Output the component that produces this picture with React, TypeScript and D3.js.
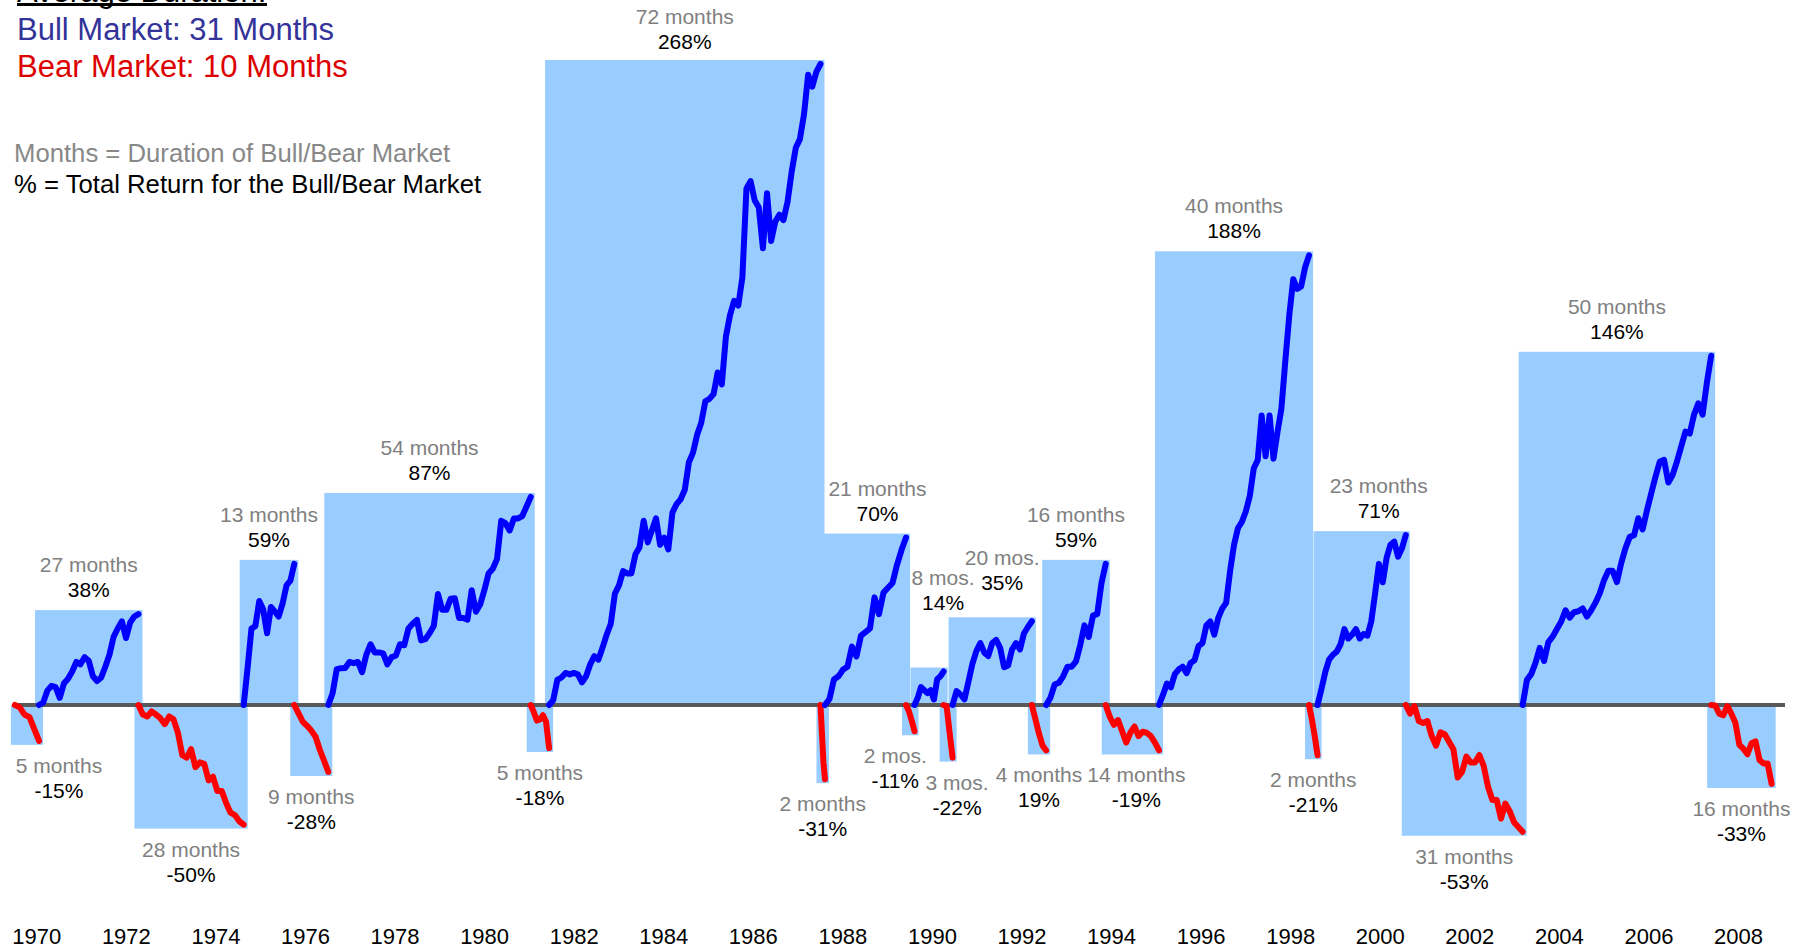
import React, { useEffect, useRef } from "react";
import * as d3 from "d3";

// market boundaries (decimal years), each market runs from breaks[i] to breaks[i + 1]
const breaks = [
  1969.51, 1970.05, 1972.27, 1974.62, 1975.75, 1976.51, 1981.03, 1981.44,
  1987.5, 1987.6, 1989.41, 1989.6, 1990.25, 1990.45, 1992.22, 1992.54,
  1993.87, 1995.06, 1998.41, 1998.6, 2000.57, 2003.18, 2007.39, 2008.74,
];

// total return of each market (%)
const totals = [
  -15, 38, -50, 59, -28, 87, -18, 268, -31, 70, -11, 14, -22, 35, -19, 59,
  -19, 188, -21, 71, -53, 146, -33,
];

const durationText = [
  "5 months", "27 months", "28 months", "13 months", "9 months", "54 months",
  "5 months", "72 months", "2 months", "21 months", "2 mos.", "8 mos.",
  "3 mos.", "20 mos.", "4 months", "16 months", "14 months", "40 months",
  "2 months", "23 months", "31 months", "50 months", "16 months",
];

const returnText = [
  "-15%", "38%", "-50%", "59%", "-28%", "87%", "-18%", "268%", "-31%", "70%",
  "-11%", "14%", "-22%", "35%", "19%", "59%", "-19%", "188%", "-21%", "71%",
  "-53%", "146%", "-33%",
];

// cumulative return path inside each market (%), evenly spaced in time
const paths = [
  [0, -1, -4, -5, -10, -15],
  [0, 1, 6, 8, 7.5, 3, 9, 11, 14, 18, 17, 20, 18.5, 12, 10, 11.5, 16, 21, 28.5, 32, 35, 28, 34.5, 37, 38],
  [0, -4, -4.8, -2.7, -4, -5.5, -8, -4.8, -6, -11.6, -21, -22, -18.5, -26, -24, -24.6, -31.5, -30, -36, -36, -41, -45, -46, -48.6, -50],
  [0, 15.5, 32, 33, 43.5, 40, 30, 41, 39, 37, 42.5, 50, 52, 59],
  [0, -3.5, -7, -8.7, -10.7, -13.3, -18.7, -23.3, -28],
  [0, 4.8, 15, 15.4, 15.5, 18, 17.5, 18, 13.7, 21, 25.4, 22, 22, 21.6, 17, 20, 20.6, 25.4, 25, 32, 34, 35.6, 27, 27.5, 30, 33, 46.4, 39.8, 39.8, 44.4, 44.6, 36.4, 36.4, 35.7, 48, 39, 42, 48, 55, 57, 61, 77, 76, 73, 78, 78, 79, 83, 87],
  [0, -3, -6.5, -6, -4.3, -7, -18],
  [0, 2, 10.5, 11.5, 13.4, 12.8, 13.4, 12.8, 9.5, 12, 17, 20.4, 19, 24, 29.4, 34, 46.6, 50, 56, 55, 55, 63, 66, 77, 68, 73, 78, 67, 70, 65, 80.5, 84, 86, 90, 101.5, 105.5, 113, 118, 127, 128, 130, 139, 134, 154, 163, 169, 167, 178.7, 216, 219, 211, 208, 191, 214, 194, 202, 205, 202.7, 210.5, 223, 233, 236.6, 247, 263.5, 258.5, 264.7, 268],
  [0, -12, -24, -31],
  [0, 2.5, 10.7, 12, 14.8, 16, 24.4, 20.3, 29, 30.5, 32, 45, 38, 47, 49, 51, 58.6, 64.8, 70],
  [0, -2.5, -6.5, -11],
  [0, 3, 7.5, 6.2, 5, 6.2, 2.3, 10.8, 12, 14],
  [0, -0.5, -11.5, -22],
  [0, 5.8, 4.4, 2.4, 9.8, 17.2, 22.5, 25.9, 21.9, 20.5, 25.9, 27.2, 23.9, 15.8, 16.5, 23.2, 25.9, 23.2, 29.9, 32.6, 35],
  [0, -6, -12, -17, -19],
  [0, 3, 8.6, 9.3, 12, 16, 16, 18.2, 25, 33.3, 28.5, 37.4, 38, 51, 59],
  [0, -5, -8.3, -6.3, -11, -15.7, -11.6, -9, -13, -11.2, -11.6, -13, -15.7, -19],
  [0, 4.2, 9, 7.4, 12.9, 14.9, 16, 13.3, 17.6, 18.7, 24.6, 25.9, 33.3, 34.9, 29.4, 36.4, 40.3, 42.7, 56, 67, 74, 76.6, 81, 87.5, 99, 102.4, 121, 104, 121, 103, 114, 124, 144, 163, 178, 174, 175, 183, 188],
  [0, -6, -13, -21],
  [0, 6.6, 13.7, 19, 21, 22.3, 25.4, 31.7, 27.8, 29.4, 31.7, 27.8, 29.7, 29, 34.9, 46.6, 59, 51.3, 61.5, 67, 68.3, 62, 65.5, 71],
  [0, -3.6, -0.5, -6.7, -7.5, -6.7, -13, -17, -11.4, -12.2, -15.4, -18.5, -30.3, -28, -21.6, -24, -24, -20.9, -25.5, -34.2, -39.7, -39.7, -47.5, -41.2, -44.4, -49, -51, -53],
  [0, 10.5, 12.9, 17.6, 23.9, 18.4, 26.3, 28.6, 31.8, 34.9, 39.6, 36.5, 38.8, 39.2, 40.4, 37, 39.6, 42.8, 46.7, 52.2, 56.1, 56.1, 51.4, 59.3, 65.6, 70.3, 71, 78.1, 73.4, 81.3, 88.4, 95.4, 101.7, 102.5, 93, 96.2, 101.7, 108, 114.3, 113.5, 121.4, 126.1, 121.4, 134.8, 146],
  [0, -0.2, -3.6, -4.3, -0.5, -3.6, -7.4, -16.7, -18.3, -20.6, -16, -15.2, -23, -24.5, -24.5, -33],
];

const yearTicks = [
  1970, 1972, 1974, 1976, 1978, 1980, 1982, 1984, 1986, 1988, 1990, 1992,
  1994, 1996, 1998, 2000, 2002, 2004, 2006, 2008,
];

// label nudges in px for the crowded spots: index -> [dx, dy]
const nudges: Record<number, [number, number]> = {
  0: [32, 0],
  7: [0, 2],
  9: [12, 0],
  10: [-15, 0],
  11: [14, -45],
  12: [9, 0],
  13: [10, -14],
  16: [4, 0],
  19: [17, 0],
};

const FONT = "'Liberation Sans', Arial, sans-serif";

export default function App() {
  const ref = useRef<SVGSVGElement | null>(null);

  useEffect(() => {
    const width = 1805;
    const height = 948;
    const svg = d3.select(ref.current).attr("width", width).attr("height", height);
    svg.selectAll("*").remove();

    const x = d3.scaleLinear().domain([1970, 2008]).range([36.8, 1738.5]);
    const y = d3.scaleLinear().domain([0, 268]).range([705, 64]);
    const pad = 4;
    const vpad = 4;

    const markets = totals.map((total, i) => ({
      i,
      total,
      start: breaks[i],
      end: breaks[i + 1],
      bull: total > 0,
      path: paths[i],
    }));

    // boxes
    svg.append("g")
      .selectAll("rect")
      .data(markets)
      .enter().append("rect")
      .attr("x", d => x(d.start) - pad)
      .attr("width", d => x(d.end) - x(d.start) + pad * 2)
      .attr("y", d => (d.bull ? y(d.total) - vpad : y(0)))
      .attr("height", d => Math.abs(y(d.total) - y(0)) + vpad)
      .attr("fill", "#99CCFF");

    // zero line
    svg.append("line")
      .attr("x1", 14)
      .attr("x2", 1785)
      .attr("y1", y(0))
      .attr("y2", y(0))
      .attr("stroke", "#595959")
      .attr("stroke-width", 4);

    // return paths
    const line = d3.line<number[]>()
      .x(p => x(p[0]))
      .y(p => y(p[1]));

    svg.append("g")
      .selectAll("path")
      .data(markets)
      .enter().append("path")
      .attr("d", d => {
        const t = d3.scaleLinear().domain([0, d.path.length - 1]).range([d.start, d.end]);
        return line(d.path.map((v, k) => [t(k), v]));
      })
      .attr("fill", "none")
      .attr("stroke", d => (d.bull ? "#0000FF" : "#FF0000"))
      .attr("stroke-width", 6)
      .attr("stroke-linejoin", "round")
      .attr("stroke-linecap", "round");

    // labels
    const labels = svg.append("g")
      .style("font-family", FONT)
      .style("font-size", "21px")
      .attr("text-anchor", "middle");

    markets.forEach(d => {
      const [dx, dy] = nudges[d.i] || [0, 0];
      const cx = (x(d.start) + x(d.end)) / 2 + dx;
      const cy = (d.bull ? y(d.total) - vpad - 45 : y(d.total) + 25) + dy;
      labels.append("text")
        .attr("x", cx)
        .attr("y", cy + 7)
        .attr("fill", "#808080")
        .text(durationText[d.i]);
      labels.append("text")
        .attr("x", cx)
        .attr("y", cy + 32)
        .attr("fill", "#000000")
        .text(returnText[d.i]);
    });

    // year axis
    svg.append("g")
      .style("font-family", FONT)
      .style("font-size", "22px")
      .attr("text-anchor", "middle")
      .selectAll("text")
      .data(yearTicks)
      .enter().append("text")
      .attr("x", d => x(d))
      .attr("y", 944)
      .text(d => d);

    // header notes
    const head = svg.append("g").style("font-family", FONT);
    head.append("text").attr("x", 17).attr("y", 2).style("font-size", "31px").attr("fill", "#000").text("Average Duration:");
    head.append("line").attr("x1", 17).attr("x2", 267).attr("y1", 4.5).attr("y2", 4.5).attr("stroke", "#000").attr("stroke-width", 3);
    head.append("text").attr("x", 17).attr("y", 40).style("font-size", "31px").attr("fill", "#333399").text("Bull Market: 31 Months");
    head.append("text").attr("x", 17).attr("y", 77).style("font-size", "31px").attr("fill", "#DD0000").text("Bear Market: 10 Months");
    head.append("text").attr("x", 14).attr("y", 162).style("font-size", "25.7px").attr("fill", "#888888").text("Months = Duration of Bull/Bear Market");
    head.append("text").attr("x", 14).attr("y", 193).style("font-size", "25.7px").attr("fill", "#000").text("% = Total Return for the Bull/Bear Market");
  }, []);

  return (
    <div style={{ position: "absolute", left: 0, top: 0 }}>
      <svg ref={ref} />
    </div>
  );
}
